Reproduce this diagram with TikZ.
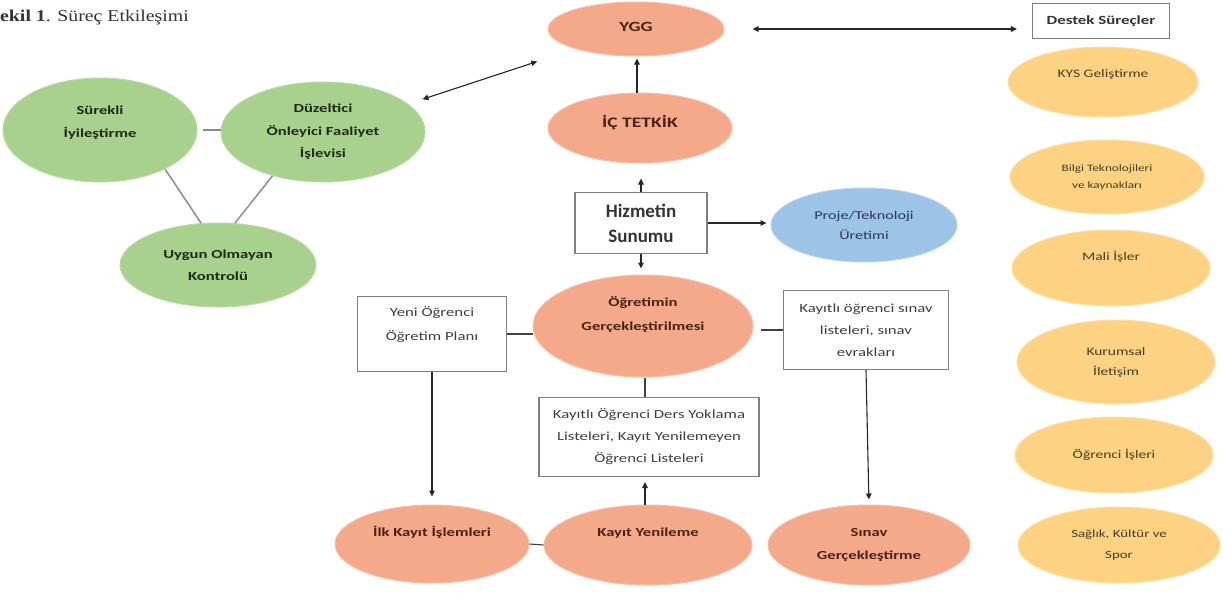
\documentclass[tikz,border=0pt]{standalone}
\usepackage{fontspec}
\setmainfont{Carlito}[FakeStretch=1.35]
\newfontfamily\plainfont{Carlito}
\newfontfamily\titlefont{Liberation Serif}[FakeStretch=1.2]
\usetikzlibrary{shapes.geometric,arrows.meta}
\definecolor{gfill}{HTML}{A9D18E}
\definecolor{gdraw}{HTML}{B9DBA3}
\definecolor{gtext}{HTML}{1F2A16}
\definecolor{ofill}{HTML}{F5A98B}
\definecolor{odraw}{HTML}{F8BEA6}
\definecolor{otext}{HTML}{4A2214}
\definecolor{yfill}{HTML}{FDD383}
\definecolor{ydraw}{HTML}{FEDFA2}
\definecolor{ytext}{HTML}{4A3A20}
\definecolor{bfill}{HTML}{9DC3E6}
\definecolor{bdraw}{HTML}{B5D3EE}
\definecolor{btext}{HTML}{2A3A55}
\definecolor{boxline}{HTML}{7F7F7F}
\definecolor{boxtext}{HTML}{404040}
\definecolor{linkgray}{HTML}{8A8A8A}
\tikzset{
  ell/.style={ellipse, inner sep=0pt, align=center, line width=1pt, font=\fontsize{12.3}{22.5}\selectfont\bfseries},
  green/.style={ell, fill=gfill, draw=gdraw, text=gtext},
  salmon/.style={ell, fill=ofill, draw=odraw, text=otext},
  yell/.style={ell, fill=yfill, draw=ydraw, text=ytext, font=\fontsize{11.5}{20}\selectfont},
  blue/.style={ell, fill=bfill, draw=bdraw, text=btext, font=\fontsize{12}{20}\selectfont},
  textbox/.style={rectangle, draw=boxline, line width=1.1pt, fill=white, align=center, inner sep=0pt, text=boxtext, font=\fontsize{12.4}{22}\selectfont},
  arr/.style={-{Triangle[length=6pt,width=5.5pt]}, line width=1.1pt, draw=black!85},
  darr/.style={{Triangle[length=6pt,width=5.5pt]}-{Triangle[length=6pt,width=5.5pt]}, line width=1.1pt, draw=black!85},
  link/.style={line width=1.4pt, draw=linkgray},
  plink/.style={line width=1.1pt, draw=black!75},
}
\begin{document}
\begin{tikzpicture}[x=1pt,y=-1pt]
\useasboundingbox (0,0) rectangle (1225,592);
\fill[white] (0,0) rectangle (1225,592);

% title
\node[anchor=base west, inner sep=0pt, font=\titlefont\fontsize{16.5}{18}\selectfont, text=black!80] (title) at (0,21) {\textbf{ekil 1}. Süreç Etkileşimi};

% green cluster
\node[green, minimum width=194pt, minimum height=104pt, text depth=17pt] (s1) at (100,130) {Sürekli\\İyileştirme};
\node[green, minimum width=204pt, minimum height=100pt] (d1) at (323,132) {Düzeltici\\Önleyici Faaliyet\\İşlevisi};
\node[green, minimum width=196pt, minimum height=84pt] (u1) at (218,265) {Uygun Olmayan\\Kontrolü};
\draw[link, shorten <=5pt] (s1.east) -- (s1.east -| d1.west);
\draw[link] (s1.-31) -- (u1.112);
\draw[link] (d1.-139) -- (u1.68);

% centre column
\node[salmon, minimum width=176pt, minimum height=54pt, font=\fontsize{14}{21}\selectfont\bfseries, text depth=5pt] (ygg) at (636,29) {YGG};
\node[salmon, minimum width=184pt, minimum height=70pt, font=\fontsize{14.5}{21}\selectfont\bfseries, text depth=14pt] (ic) at (640,128) {İÇ TETKİK};
\node[textbox, minimum width=132pt, minimum height=61pt, text=black!80, font=\plainfont\fontsize{19}{25}\selectfont\bfseries] (hiz) at (641,223) {Hizmetin\\Sunumu};
\node[blue, minimum width=186pt, minimum height=74pt] (proje) at (864,225) {Proje/Teknoloji\\Üretimi};
\node[salmon, minimum width=220pt, minimum height=102pt, font=\fontsize{12.3}{24}\selectfont\bfseries, text depth=25pt] (ogr) at (643,326) {Öğretimin\\Gerçekleştirilmesi};
\node[textbox, minimum width=149pt, minimum height=75pt, font=\fontsize{12.4}{24}\selectfont, text depth=21pt] (yeni) at (432,334) {Yeni Öğrenci\\Öğretim Planı};
\node[textbox, minimum width=220pt, minimum height=79pt] (kayitli) at (649,437) {Kayıtlı Öğrenci Ders Yoklama\\Listeleri, Kayıt Yenilemeyen\\Öğrenci Listeleri};
\node[textbox, minimum width=165pt, minimum height=79pt] (sbox) at (866,330) {Kayıtlı öğrenci sınav\\listeleri, sınav\\evrakları};
\node[salmon, minimum width=194pt, minimum height=78pt, text depth=26pt] (ilk) at (432,544) {İlk Kayıt İşlemleri};
\node[salmon, minimum width=208pt, minimum height=80pt, text depth=26pt] (kyen) at (648,545) {Kayıt Yenileme};
\node[salmon, minimum width=202pt, minimum height=80pt] (sg) at (869,545) {Sınav\\Gerçekleştirme};

% right column
\node[textbox, minimum width=137pt, minimum height=35pt, text=black!80, font=\fontsize{12.5}{18}\selectfont\bfseries] (destek) at (1101,21) {Destek Süreçler};
\node[yell, minimum width=190pt, minimum height=70pt, text depth=17pt] (kys) at (1103,82) {KYS Geliştirme};
\node[yell, minimum width=194pt, minimum height=74pt, font=\fontsize{9.8}{17}\selectfont] (bilgi) at (1107,177) {Bilgi Teknolojileri\\ve kaynakları};
\node[yell, minimum width=198pt, minimum height=76pt, text depth=24pt] (mali) at (1111,268) {Mali İşler};
\node[yell, minimum width=198pt, minimum height=84pt] (kurum) at (1116,362) {Kurumsal\\İletişim};
\node[yell, minimum width=198pt, minimum height=76pt] (ogris) at (1114,455) {Öğrenci İşleri};
\node[yell, minimum width=202pt, minimum height=76pt, font=\fontsize{11}{21}\selectfont] (saglik) at (1119,545) {Sağlık, Kültür ve\\Spor};

% connectors
\draw[darr, shorten <=15pt, shorten >=40pt] (d1) -- (ygg);
\draw[darr, shorten <=28pt, shorten >=15pt] (ygg.east) -- (ygg.east -| destek.west);
\draw[arr, shorten >=2pt] (ic.north -| 637,0) -- (ygg.south -| 637,0);
\draw[arr, shorten >=15pt] (hiz.north) -- (hiz.north |- ic.south);
\draw[arr, shorten >=6pt] (hiz.south) -- (hiz.south |- ogr.north);
\draw[arr, shorten >=4pt] (hiz.east) -- (hiz.east -| proje.west);
\draw[plink] (yeni.east) -- (yeni.east -| ogr.west);
\draw[plink] (kayitli.north -| 645,0) -- (ogr.south -| 645,0);
\draw[arr, shorten >=5pt] (kyen.north -| 645,0) -- (kayitli.south -| 645,0);
\draw[plink, shorten >=7pt] (sbox.west) -- (sbox.west -| ogr.east);
\draw[arr, shorten >=5pt] (sbox.south) -- (sg.north);
\draw[arr, shorten >=8pt] (yeni.south) -- (ilk.north);
\draw[plink] (ilk.east) -- (kyen.west);
\end{tikzpicture}
\end{document}
